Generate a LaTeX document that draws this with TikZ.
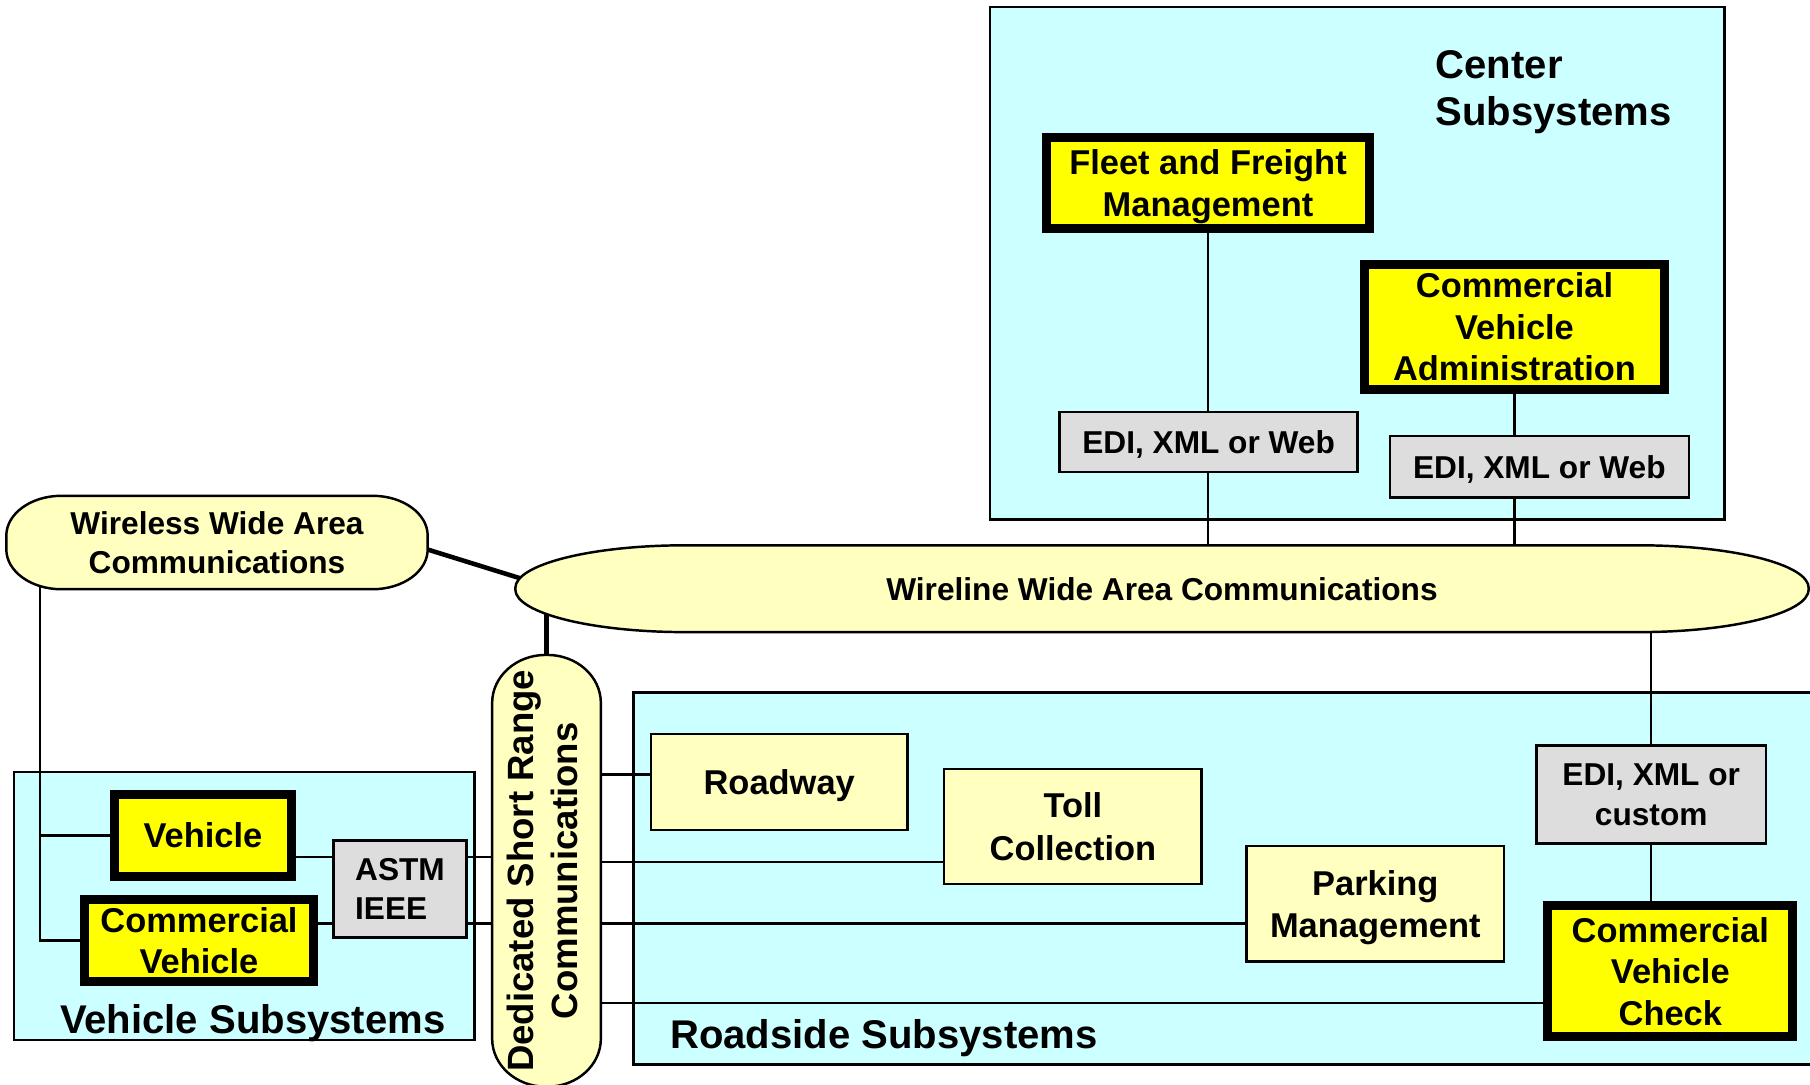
\documentclass[tikz,border=0pt]{standalone}
\usepackage{fontspec}
\setmainfont{Liberation Sans}
\usetikzlibrary{backgrounds}

\definecolor{subsyscyan}{RGB}{204,255,255}
\definecolor{cvoyellow}{RGB}{255,255,0}
\definecolor{paleyellow}{RGB}{255,255,191}
\definecolor{stdgray}{RGB}{221,221,221}

\newcommand\fsz[2]{\fontsize{#1}{#2}\selectfont\bfseries}

% oval with elliptic ends round a node: name, x radius, y radius
\newcommand\commshape[3]{%
  \draw[ovalline] ([xshift=#2]#1.north west) -- ([xshift=-#2]#1.north east)
    arc[start angle=90, end angle=0, x radius=#2, y radius=#3]
    -- ([yshift=#3]#1.south east)
    arc[start angle=0, end angle=-90, x radius=#2, y radius=#3]
    -- ([xshift=#2]#1.south west)
    arc[start angle=270, end angle=180, x radius=#2, y radius=#3]
    -- ([yshift=-#3]#1.north west)
    arc[start angle=180, end angle=90, x radius=#2, y radius=#3] -- cycle;}

\tikzset{
  subsys/.style={draw, fill=subsyscyan, line width=0.7pt},
  cvobox/.style={draw, fill=cvoyellow, line width=0.09cm, inner sep=0pt, text depth=0pt, align=center, font=\fsz{9.8}{11.8}},
  roadbox/.style={draw, fill=paleyellow, line width=0.7pt, inner sep=0pt, text depth=0pt, align=center, font=\fsz{9.8}{12}},
  stdbox/.style={draw, fill=stdgray, line width=0.7pt, inner sep=0pt, text depth=0pt, align=center, font=\fsz{9}{11.2}},
  commoval/.style={inner sep=0pt, text depth=0pt, align=center, font=\fsz{9}{11.2}},
  ovalline/.style={draw, fill=paleyellow, line width=0.7pt},
  sublabel/.style={inner sep=0pt, align=left, font=\fsz{11.4}{13.4}},
  wire/.style={line width=0.6pt},
  trunk/.style={line width=1.3pt}
}

\begin{document}
\begin{tikzpicture}
	\useasboundingbox (0,0) rectangle (18.10,10.84);
	% center subsystems
	\node[cvobox, minimum width=3.23cm, minimum height=0.91cm] (fleet) at (12.08,9.01) {Fleet and Freight\\Management};
	\node[cvobox, minimum width=3.00cm, minimum height=1.25cm] (cvadmin) at (15.145,7.573) {Commercial\\Vehicle\\Administration};
	\node[stdbox, minimum width=2.98cm, minimum height=0.60cm] (edifleet) at (12.086,6.42) {EDI, XML or Web};
	\node[stdbox, minimum width=2.99cm, minimum height=0.615cm] (edicva) at (15.393,6.172) {EDI, XML or Web};
	\node[sublabel, anchor=west] (centerlbl) at (14.35,9.915) {Center\\Subsystems};
	% communications
	\node[commoval, minimum width=4.20cm, minimum height=0.92cm] (wireless) at (2.17,5.415) {Wireless Wide Area\\Communications};
	\node[commoval, minimum width=12.92cm, minimum height=0.854cm] (wireline) at (11.62,4.953) {Wireline Wide Area Communications};
	\node[commoval, minimum width=1.073cm, minimum height=4.304cm, font=\fsz{10.4}{12.5}] (dsrc) at (5.465,2.132)
		{\rotatebox{90}{\begin{tabular}{@{}c@{}}Dedicated Short Range\\Communications\end{tabular}}};
	% vehicle subsystems
	\node[cvobox, minimum width=1.77cm, minimum height=0.82cm] (veh) at (2.03,2.485) {Vehicle};
	\node[cvobox, minimum width=2.29cm, minimum height=0.82cm] (comveh) at (1.99,1.435) {Commercial\\Vehicle};
	\node[stdbox, minimum width=1.327cm, minimum height=0.97cm, align=left] (astm) at (4.00,1.952) {ASTM\\IEEE};
	\node[sublabel] (vehlbl) at (2.528,0.612) {Vehicle Subsystems};
	% roadside subsystems
	\node[roadbox, minimum width=2.563cm, minimum height=0.96cm] (roadway) at (7.792,3.02) {Roadway};
	\node[roadbox, minimum width=2.574cm, minimum height=1.154cm] (toll) at (10.729,2.575) {Toll\\Collection};
	\node[roadbox, minimum width=2.574cm, minimum height=1.154cm] (parking) at (13.753,1.802) {Parking\\Management};
	\node[stdbox, minimum width=2.297cm, minimum height=0.98cm] (edicvc) at (16.512,2.893) {EDI, XML or\\custom};
	\node[cvobox, minimum width=2.45cm, minimum height=1.307cm] (cvcheck) at (16.703,1.127) {Commercial\\Vehicle\\Check};
	\node[sublabel, anchor=west] (roadlbl) at (6.695,0.462) {Roadside Subsystems};

	\begin{scope}[on background layer]
		% subsystem areas
		\draw[subsys] (9.90,10.77) rectangle (17.245,5.645);
		\draw[subsys] (0.14,3.118) rectangle (4.744,0.44);
		\draw[subsys] (6.337,3.914) rectangle (18.40,0.197);
		% links
		\coordinate (wbus) at (0.404,5.415);
		\coordinate (lnveh) at (0,2.27);
		\coordinate (lncv) at (0,1.605);
		\coordinate (lnroad) at (0,3.095);
		\coordinate (lntoll) at (0,2.217);
		\coordinate (lncvc) at (0,0.809);
		\draw[wire] (fleet) -- (fleet |- wireline);
		\draw[wire] (cvadmin) -- (cvadmin |- wireline);
		\draw[wire] (edicvc |- wireline) -- (edicvc |- cvcheck);
		\draw[wire] (wbus) |- (comveh);
		\draw[wire] (wbus |- veh) -- (veh);
		\draw[wire] (veh |- lnveh) -- (dsrc |- lnveh);
		\draw[wire] (comveh |- lncv) -- (parking |- lncv);
		\draw[wire] (dsrc |- lnroad) -- (roadway |- lnroad);
		\draw[wire] (dsrc |- lntoll) -- (toll |- lntoll);
		\draw[wire] (dsrc |- lncvc) -- (cvcheck |- lncvc);
		\draw[trunk, shorten <=-0.2cm, shorten >=-0.2cm] ([yshift=-2pt]wireless.east) -- ([yshift=3.4pt]wireline.west);
		\draw[trunk] (dsrc) -- (dsrc |- wireline);
		% ovals
		\commshape{wireless}{0.55cm}{0.40cm}
		\commshape{wireline}{1.70cm}{0.427cm}
		\commshape{dsrc}{0.5365cm}{0.48cm}
	\end{scope}
\end{tikzpicture}
\end{document}
